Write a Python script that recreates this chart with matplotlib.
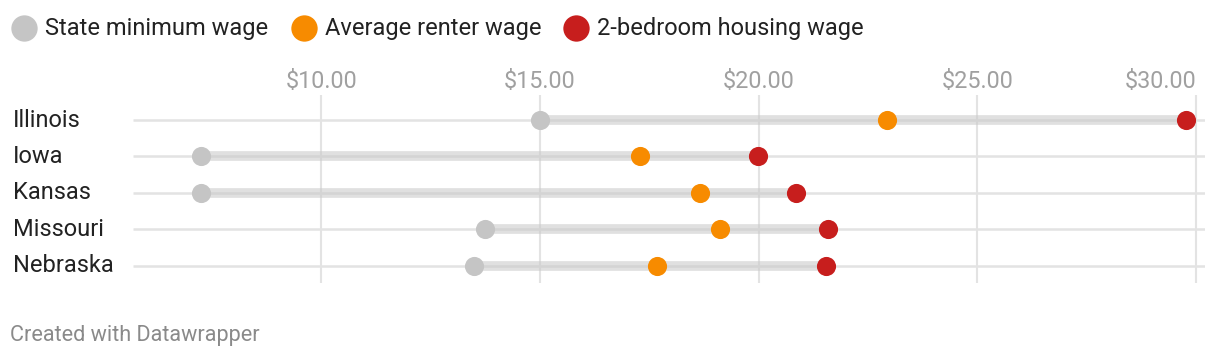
import matplotlib.pyplot as plt

plt.rcParams['font.family'] = ['Roboto', 'DejaVu Sans']

states = ['Illinois', 'Iowa', 'Kansas', 'Missouri', 'Nebraska']
min_wage = [15.00, 7.25, 7.25, 13.75, 13.50]
renter_wage = [22.93, 17.28, 18.65, 19.11, 17.67]
housing_wage = [29.77, 19.98, 20.85, 21.58, 21.53]
ticks = [10, 15, 20, 25, 30]
series = ['State minimum wage', 'Average renter wage', '2-bedroom housing wage']

c_min = '#c5c5c5'
c_rent = '#f78b00'
c_house = '#c71e1d'

fig = plt.figure(figsize=(12.2, 3.58), dpi=100)
ax = fig.add_axes([133 / 1220, 1 - 283 / 358, (1205 - 133) / 1220, 188 / 358])

ax.set_xlim(5.7, 30.2)
ax.set_ylim(4.466, -0.685)

for t in ticks:
    ax.axvline(t, color='#e3e3e3', lw=1.5, zorder=0)

y = list(range(len(states)))
for i in y:
    ax.plot([5.7, 30.2], [i, i], color='#e3e3e3', lw=1.8, zorder=1,
            solid_capstyle='butt')
    ax.plot([min_wage[i], housing_wage[i]], [i, i], color='#c8c8c8',
            alpha=0.55, lw=7, zorder=2, solid_capstyle='butt')

ax.scatter(min_wage, y, s=190, color=c_min, zorder=3, linewidths=0)
ax.scatter(renter_wage, y, s=190, color=c_rent, zorder=4, linewidths=0)
ax.scatter(housing_wage, y, s=190, color=c_house, zorder=5, linewidths=0)

ax.set_xticks(ticks)
ax.set_xticklabels(['$%.2f' % t for t in ticks])
ax.xaxis.tick_top()
ax.tick_params(axis='x', length=0, pad=1.5, labelsize=16.8, labelcolor='#a0a0a0')
ax.get_xticklabels()[-1].set_ha('right')
ax.set_yticks([])
for s in ax.spines.values():
    s.set_visible(False)

# overlay in pixel coordinates for legend, row labels and footer
ov = fig.add_axes([0, 0, 1, 1])
ov.set_xlim(0, 1220)
ov.set_ylim(358, 0)
ov.axis('off')

for i, name in enumerate(states):
    ax.text(-120 / 1072, i, name, transform=ax.get_yaxis_transform(),
            ha='left', va='center', fontsize=17, color='#222222')

leg_x = [24, 304, 576]
for x, lab, c in zip(leg_x, series, [c_min, c_rent, c_house]):
    ov.scatter([x], [28], s=360, color=c, linewidths=0)
    ov.text(x + 21, 28, lab, ha='left', va='center', fontsize=17,
            color='#222222')

ov.text(10, 335, 'Created with Datawrapper', ha='left', va='center',
        fontsize=15.6, color='#8a8a8a')

fig.savefig('out.png', dpi=100)
